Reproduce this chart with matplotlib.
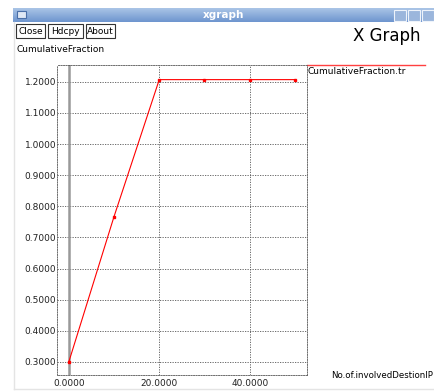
import numpy as np
import matplotlib
matplotlib.use('Agg')
import matplotlib.pyplot as plt
from matplotlib.patches import Rectangle

# data
x_vals = [0, 10, 20, 30, 40, 50]
y_vals = [0.300, 0.767, 1.207, 1.207, 1.207, 1.207]
x_ticks = [0, 20, 40]
y_ticks = [0.3, 0.4, 0.5, 0.6, 0.7, 0.8, 0.9, 1.0, 1.1, 1.2]
series_name = 'CumulativeFraction.tr'
y_title = 'CumulativeFraction'
x_title = 'No.of.involvedDestionIP'

W, H = 435, 391
plt.rcParams['font.family'] = ['DejaVu Sans']

fig = plt.figure(figsize=(W / 100, H / 100), dpi=100)
fig.patch.set_facecolor('white')

def px(x, y):
    # pixel coords (top-left origin) -> figure fraction
    return x / W, 1 - y / H

# window chrome
bg = fig.add_axes([0, 0, 1, 1])
bg.set_xlim(0, W)
bg.set_ylim(H, 0)
bg.axis('off')
grad = np.linspace(0, 1, 20).reshape(-1, 1)
bg.imshow(grad, extent=(13, W, 22, 8), aspect='auto', cmap=matplotlib.colors.LinearSegmentedColormap.from_list('tb', ['#a9c4e6', '#6f96cf']), zorder=1)
bg.add_patch(Rectangle((17, 11), 9, 7, facecolor='#dfe8f5', edgecolor='#4a6fa8', lw=0.8, zorder=2))
bg.text(224, 15, 'xgraph', color='white', fontsize=7.5, fontweight='bold', ha='center', va='center', zorder=3)
for bx in [394, 408, 422]:
    bg.add_patch(Rectangle((bx, 10), 12, 11, facecolor='#9bb6dc', edgecolor='#eef3fa', lw=0.8, zorder=2))
bg.plot([14, 14], [22, 389], color='#e4e4e4', lw=1, zorder=1)
bg.plot([14, W], [389, 389], color='#e4e4e4', lw=1, zorder=1)

for label, x0, x1 in [('Close', 16, 45), ('Hdcpy', 48, 83), ('About', 86, 115)]:
    bg.add_patch(Rectangle((x0, 24), x1 - x0, 14, facecolor='white', edgecolor='#333333', lw=0.8, zorder=2))
    bg.text((x0 + x1) / 2, 31.5, label, fontsize=6.5, ha='center', va='center', zorder=3)

bg.text(353, 36, 'X Graph', fontsize=12, ha='left', va='center')
bg.text(17, 50, y_title, fontsize=6.5, ha='left', va='center')
bg.text(433, 375, x_title, fontsize=6.2, ha='right', va='center')

# plot area
l, b = px(57.5, 375)
r, t = px(306.7, 65)
ax = fig.add_axes([l, b, r - l, t - b])
ax.set_xlim(-2.5, 52.6)
ax.set_ylim(0.258, 1.254)
ax.set_xticks(x_ticks)
ax.set_yticks(y_ticks)
ax.set_xticklabels(['%.4f' % v for v in x_ticks], fontsize=6.5)
ax.set_yticklabels(['%.4f' % v for v in y_ticks], fontsize=6.5)
ax.tick_params(axis='y', length=0, pad=1, colors='#222222')
ax.tick_params(axis='x', length=0, pad=3, colors='#222222')
ax.grid(True, color='#555555', linestyle=(0, (1.5, 1.5)), lw=0.6)
for s in ax.spines.values():
    s.set_color('#555555')
    s.set_linestyle((0, (1.5, 1.5)))
    s.set_linewidth(0.6)
ax.axvline(0, color='#999999', lw=1.8, zorder=2.5)
ax.plot(x_vals, y_vals, color='red', lw=0.8, marker='s', markersize=1.8, zorder=3, clip_on=False)

# legend entry on the right
bg.plot([307, 425], [65, 65], color='#ff4040', lw=1, zorder=2)
bg.text(308, 71, series_name, fontsize=6.5, ha='left', va='center')

fig.savefig('out.png', dpi=100)
